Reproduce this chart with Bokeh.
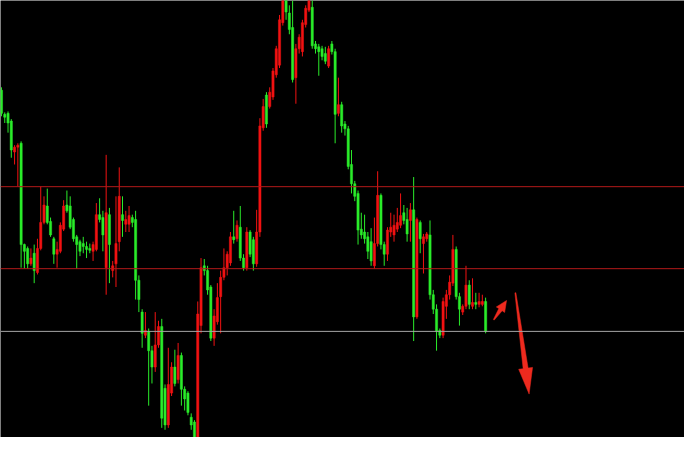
import math
from bokeh.plotting import figure
from bokeh.models import Range1d, Span, ColumnDataSource
from bokeh.embed import file_html
from bokeh.resources import INLINE

# price values (arbitrary price units), one candle per bar
opens = [360,335,336,328,296,301,305,200,196,180,191,171,196,223,240,224,206,190,193,216,
         241,240,226,208,203,201,198,196,193,195,231,228,176,231,173,180,203,231,221,221,
         228,226,163,130,106,110,90,73,96,115,51,13,46,73,60,85,50,46,21,16,
         0,116,178,173,156,103,120,146,166,176,181,208,206,218,186,176,213,205,180,213,
         321,355,343,353,376,386,430,453,440,425,373,403,400,428,443,446,408,405,403,398,
         385,408,400,336,345,325,320,283,263,253,216,213,208,203,178,201,251,200,190,213,
         210,216,220,233,226,225,236,125,223,201,206,210,148,133,111,106,136,148,160,195,
         146,130,136,158,136,140,138,138,141]
closes = [336,332,326,298,301,303,200,193,180,186,173,196,223,241,223,210,190,195,220,240,
          235,218,206,200,193,198,195,194,200,231,226,210,233,200,178,201,250,225,226,230,
          223,163,143,108,111,90,73,96,115,20,13,55,73,56,85,50,40,26,13,0,
          128,176,173,153,103,126,145,166,176,190,208,205,220,186,176,213,190,180,213,323,
          343,325,358,380,403,433,458,441,423,371,403,415,430,445,456,406,403,400,395,390,
          403,400,335,345,323,320,281,263,250,215,210,206,193,183,201,251,200,190,215,218,
          220,223,230,225,211,236,125,226,206,208,211,148,133,110,106,141,148,161,195,146,
          133,136,158,138,140,138,141,141,110]
highs = [363,337,338,330,303,305,307,201,198,196,200,206,260,250,258,228,208,203,223,246,
         256,250,228,210,205,208,203,201,203,243,248,235,293,238,183,250,280,250,235,240,
         231,235,168,133,130,113,95,130,121,123,55,93,78,91,98,88,53,48,25,18,
         141,186,185,178,158,133,160,173,196,193,213,235,225,240,190,218,215,208,236,331,
         351,358,363,383,406,438,463,461,448,453,408,418,433,448,461,458,411,408,406,405,
         406,411,403,373,348,328,323,298,266,256,233,231,213,217,228,276,253,203,218,233,
         231,238,253,241,238,243,270,228,225,211,213,225,153,138,113,145,153,168,210,198,
         150,138,178,163,165,150,150,148,145]
lows = [333,326,316,290,283,260,176,175,175,178,160,169,194,221,221,208,180,176,191,214,
        233,216,203,175,188,191,186,191,183,193,223,193,148,160,166,156,193,208,213,213,
        218,143,130,93,103,33,56,68,93,10,8,10,43,53,56,33,28,23,8,-7,
        -7,108,168,148,100,95,117,108,163,168,178,201,203,183,173,173,187,173,177,208,
        318,321,341,350,373,383,427,433,418,368,346,398,395,425,441,403,398,375,391,387,
        383,397,305,333,316,313,278,253,245,200,206,201,185,178,175,198,195,178,183,208,
        203,213,217,221,203,203,100,123,191,170,203,143,128,90,103,103,123,143,157,143,
        116,127,133,133,133,133,135,136,108]
resistance_levels = [260, 175]
support_level = 110
# annotation arrows: (start index, start price, end index, end price)
arrow_small = [150.5, 122, 154.4, 142]
arrow_big = [157.1, 150, 161.3, 45]

UP = "#f21212"
DOWN = "#2aec2a"
ARROW = "#ee2a1e"

W, H = 684, 437
X0, X1 = -0.3, 208.8
Y0, Y1 = 0, 453

idx = list(range(len(opens)))
colors = [UP if c > o else DOWN for o, c in zip(opens, closes)]
src = ColumnDataSource(dict(
    x=idx, high=highs, low=lows,
    top=[max(o, c) for o, c in zip(opens, closes)],
    bottom=[min(o, c) for o, c in zip(opens, closes)],
    color=colors))

p = figure(width=W, height=H, output_backend="svg", toolbar_location=None,
           x_range=Range1d(X0, X1), y_range=Range1d(Y0, Y1),
           background_fill_color="black", border_fill_color="black",
           min_border=0, outline_line_color=None)
p.axis.visible = False
p.grid.visible = False

p.segment(x0="x", y0="low", x1="x", y1="high", color="color", line_width=1, source=src)
p.vbar(x="x", width=0.68, top="top", bottom="bottom", fill_color="color",
       line_color="color", line_width=0.5, source=src)

for lv in resistance_levels:
    p.add_layout(Span(location=lv, dimension="width", line_color="#b31a1a", line_width=1))
p.add_layout(Span(location=support_level, dimension="width", line_color="#a6a6a6", line_width=1))

# tapered arrows built in screen space from the arrow arrays
sx = W / (X1 - X0)
sy = H / (Y1 - Y0)

def arrow_poly(a, w0, w1, head_w, head_len):
    x0, y0 = a[0] * sx, a[1] * sy
    x1, y1 = a[2] * sx, a[3] * sy
    dx, dy = x1 - x0, y1 - y0
    L = math.hypot(dx, dy)
    ux, uy = dx / L, dy / L
    nx, ny = -uy, ux
    bx, by = x1 - ux * head_len, y1 - uy * head_len
    pts = [
        (x0 + nx * w0 / 2, y0 + ny * w0 / 2),
        (bx + nx * w1 / 2, by + ny * w1 / 2),
        (bx + nx * head_w / 2, by + ny * head_w / 2),
        (x1, y1),
        (bx - nx * head_w / 2, by - ny * head_w / 2),
        (bx - nx * w1 / 2, by - ny * w1 / 2),
        (x0 - nx * w0 / 2, y0 - ny * w0 / 2),
    ]
    return [q[0] / sx for q in pts], [q[1] / sy for q in pts]

xs, ys = arrow_poly(arrow_small, 1.0, 4.0, 10.0, 11.0)
p.patch(xs, ys, fill_color=ARROW, line_color=ARROW, line_width=0.5)
xs, ys = arrow_poly(arrow_big, 1.0, 5.0, 14.0, 26.0)
p.patch(xs, ys, fill_color=ARROW, line_color=ARROW, line_width=0.5)

open("out.html", "w").write(file_html(p, INLINE))
